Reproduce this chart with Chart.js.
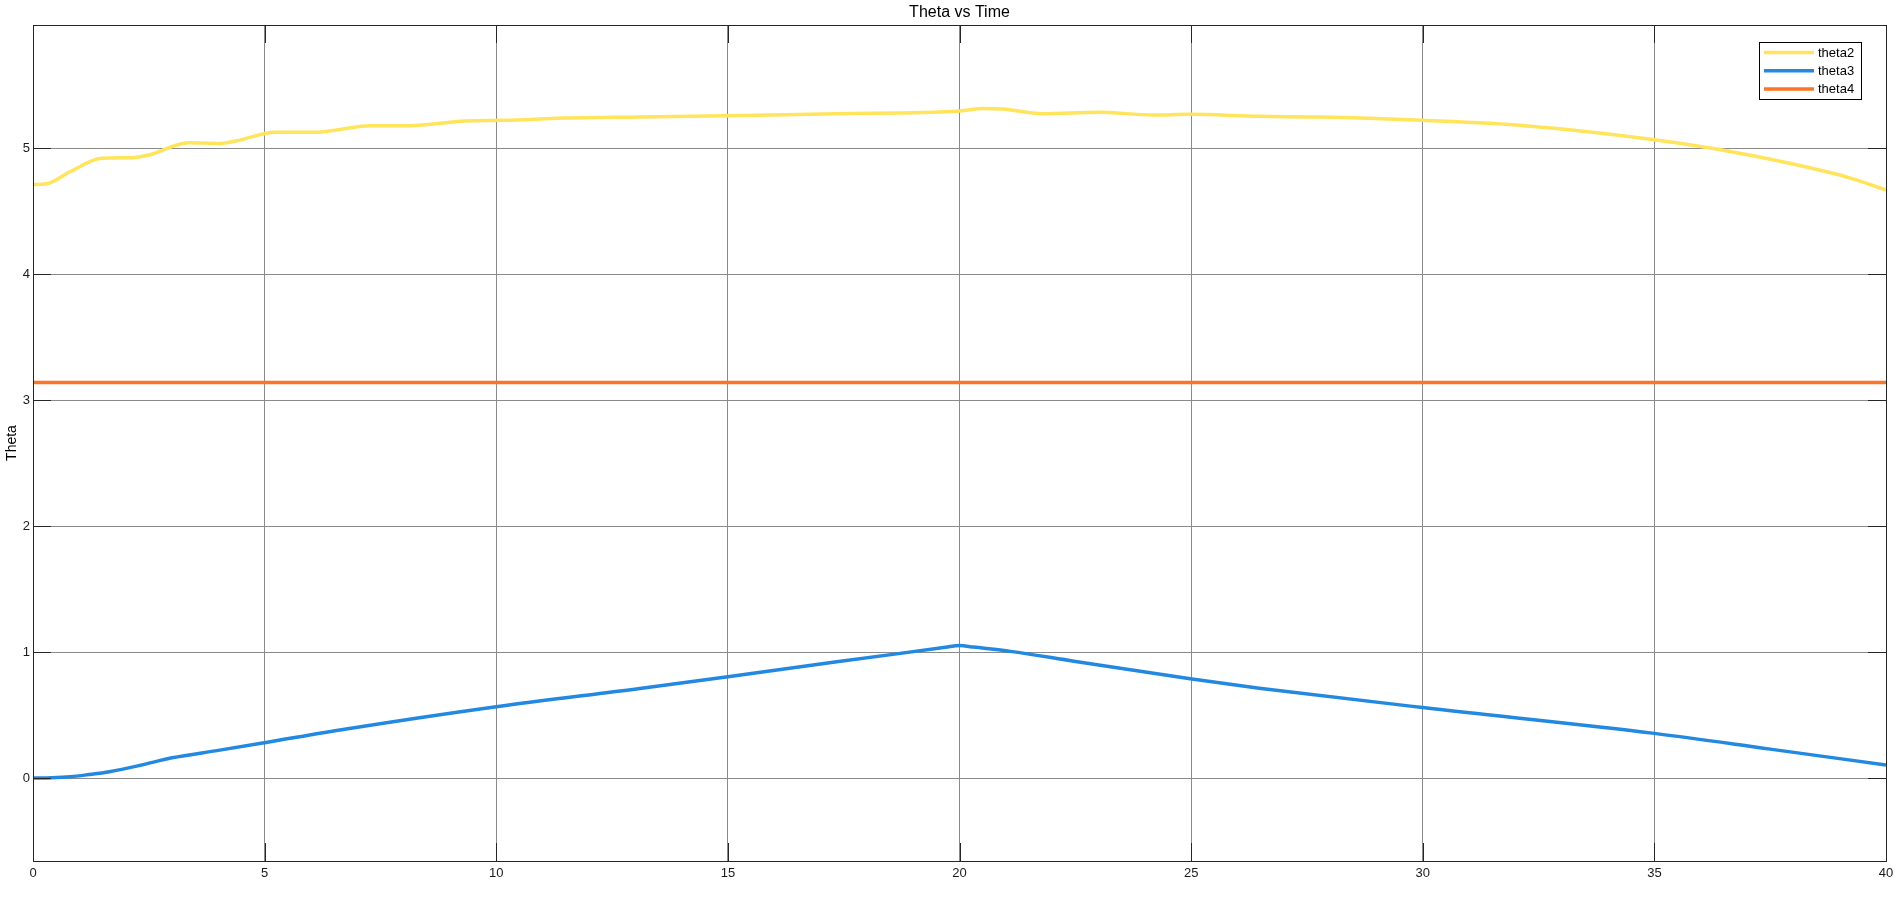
<!DOCTYPE html>
<html lang="en">
  <head>
    <meta charset="UTF-8" />
    <title>Theta vs Time</title>
    <script src="https://cdn.jsdelivr.net/npm/chart.js"></script>
    <style>
      html, body { margin: 0; padding: 0; background: #fff; overflow: hidden; }
      #wrap { width: 1902px; height: 906px; }
    </style>
  </head>
  <body>
    <div id="wrap"><canvas id="thetaChart"></canvas></div>
    <script>
      // values
      const time2 = [0, 0.3, 0.8, 1.48, 2.16, 2.5, 3.36, 4.04, 4.38, 5.23, 6.08, 6.59, 7.27, 8.13, 9.32, 10.17, 11.45, 13.1, 15, 17.35, 20, 20.5, 20.94, 21.79, 22.99, 24.18, 24.98, 26.47, 27.8, 30, 32.2, 35, 36.34, 37.92, 39.25, 40];
      const theta2 = [4.714, 4.72, 4.815, 4.922, 4.927, 4.948, 5.046, 5.04, 5.059, 5.128, 5.128, 5.149, 5.181, 5.181, 5.218, 5.223, 5.241, 5.25, 5.26, 5.276, 5.297, 5.318, 5.313, 5.276, 5.287, 5.266, 5.271, 5.255, 5.25, 5.223, 5.181, 5.07, 4.996, 4.882, 4.763, 4.67];

      const time3 = [0, 0.4, 0.8, 1.2, 1.65, 2.3, 3, 4, 5, 6.76, 10, 13.1, 15, 17.35, 19.7, 20, 20.3, 21.1, 22.47, 24.98, 26.47, 30, 35, 37.5, 40];
      const theta3 = [0.002, 0.005, 0.013, 0.03, 0.053, 0.102, 0.163, 0.222, 0.283, 0.392, 0.569, 0.714, 0.807, 0.925, 1.04, 1.055, 1.042, 1.008, 0.93, 0.79, 0.716, 0.562, 0.357, 0.232, 0.106];

      const time4 = [0, 40];
      const theta4 = [3.1416, 3.1416];

      const seriesNames = ["theta2", "theta3", "theta4"];
      const seriesColors = ["#FFE45C", "#2389E0", "#FF7324"];

      const xTicks = [0, 5, 10, 15, 20, 25, 30, 35, 40];
      const yTicks = [0, 1, 2, 3, 4, 5];

      const toPoints = (xs, ys) => xs.map((x, i) => ({ x: x, y: ys[i] }));

      const FONT = "'Liberation Sans', Arial, sans-serif";

      // box, inner tick marks (matlab style)
      const frame = {
        id: "frame",
        afterDatasetsDraw(chart) {
          const { ctx, chartArea: a, scales } = chart;
          const len = 18;
          ctx.save();
          ctx.strokeStyle = "#262626";
          ctx.lineWidth = 1;
          ctx.beginPath();
          scales.x.ticks.forEach((t) => {
            const px = Math.round(scales.x.getPixelForValue(t.value)) + 0.5;
            ctx.moveTo(px, a.bottom);
            ctx.lineTo(px, a.bottom - len);
            ctx.moveTo(px, a.top);
            ctx.lineTo(px, a.top + len);
          });
          scales.y.ticks.forEach((t) => {
            const py = Math.round(scales.y.getPixelForValue(t.value)) + 0.5;
            ctx.moveTo(a.left, py);
            ctx.lineTo(a.left + len, py);
            ctx.moveTo(a.right, py);
            ctx.lineTo(a.right - len, py);
          });
          ctx.stroke();
          ctx.strokeRect(Math.round(a.left) + 0.5, Math.round(a.top) + 0.5, Math.round(a.right - a.left), Math.round(a.bottom - a.top));
          ctx.restore();
        },
      };

      // legend in a framed box, top right inside the axes
      const boxLegend = {
        id: "boxLegend",
        afterDraw(chart) {
          const { ctx, chartArea: a } = chart;
          const sets = chart.data.datasets;
          const w = 102, rowH = 18.3;
          const h = rowH * sets.length + 2;
          const x0 = a.right - 25 - w;
          const y0 = a.top + 17;
          ctx.save();
          ctx.fillStyle = "#fff";
          ctx.fillRect(x0, y0, w, h);
          ctx.strokeStyle = "#000";
          ctx.lineWidth = 1;
          ctx.strokeRect(Math.round(x0) + 0.5, Math.round(y0) + 0.5, w, Math.round(h));
          ctx.font = "13px " + FONT;
          ctx.textBaseline = "middle";
          ctx.fillStyle = "#000";
          sets.forEach((ds, i) => {
            const cy = y0 + 10.5 + i * rowH;
            ctx.strokeStyle = ds.borderColor;
            ctx.lineWidth = 3.5;
            ctx.beginPath();
            ctx.moveTo(x0 + 5, cy);
            ctx.lineTo(x0 + 55, cy);
            ctx.stroke();
            ctx.fillText(ds.label, x0 + 59, cy + 0.5);
          });
          ctx.restore();
        },
      };

      const ctx = document.getElementById("thetaChart").getContext("2d");
      new Chart(ctx, {
        type: "line",
        data: {
          datasets: [
            { label: seriesNames[0], data: toPoints(time2, theta2), borderColor: seriesColors[0], borderWidth: 3.5, pointRadius: 0, cubicInterpolationMode: "monotone" },
            { label: seriesNames[1], data: toPoints(time3, theta3), borderColor: seriesColors[1], borderWidth: 3.5, pointRadius: 0, cubicInterpolationMode: "monotone" },
            { label: seriesNames[2], data: toPoints(time4, theta4), borderColor: seriesColors[2], borderWidth: 3.5, pointRadius: 0 },
          ],
        },
        options: {
          responsive: true,
          maintainAspectRatio: false,
          animation: false,
          events: [],
          layout: { padding: { top: 0, left: 0, right: 16, bottom: 0 } },
          plugins: {
            legend: { display: false },
            tooltip: { enabled: false },
            title: {
              display: true,
              text: "Theta vs Time",
              fullSize: false,
              color: "#000",
              font: { family: FONT, size: 16, weight: "normal" },
              padding: { top: 3, bottom: 2.8 },
            },
          },
          scales: {
            x: {
              type: "linear",
              min: 0,
              max: 40,
              afterBuildTicks: (s) => { s.ticks = xTicks.map((v) => ({ value: v })); },
              afterFit: (s) => { s.height = 45; },
              grid: { color: "#8a8a8a", lineWidth: 1, drawTicks: false },
              border: { display: true, color: "#262626" },
              ticks: { color: "#1a1a1a", padding: 5, maxRotation: 0, font: { family: FONT, size: 13 } },
            },
            y: {
              type: "linear",
              min: -0.656,
              max: 5.98,
              afterBuildTicks: (s) => { s.ticks = yTicks.map((v) => ({ value: v })); },
              afterFit: (s) => { s.width = 33; },
              grid: { color: "#8a8a8a", lineWidth: 1, drawTicks: false },
              border: { display: true, color: "#262626" },
              ticks: { color: "#1a1a1a", padding: 3, font: { family: FONT, size: 13 } },
              title: {
                display: true,
                text: "Theta",
                color: "#000",
                font: { family: FONT, size: 14 },
                padding: { top: 4, bottom: 0 },
              },
            },
          },
        },
        plugins: [frame, boxLegend],
      });
    </script>
  </body>
</html>
